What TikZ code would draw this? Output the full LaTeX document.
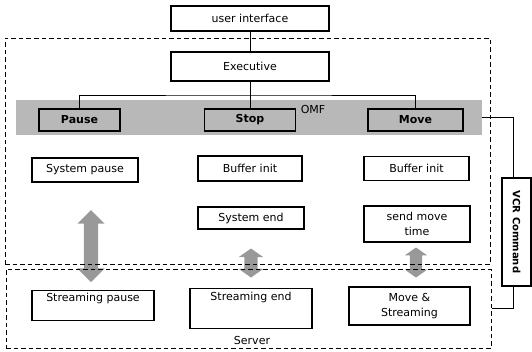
\documentclass[tikz,border=0pt]{standalone}
\usepackage{fontspec}
\setmainfont{DejaVu Sans}
\usetikzlibrary{shapes.arrows}
\begin{document}
\begin{tikzpicture}[x=1pt,y=-1pt,
  box/.style={draw,fill=white,line width=1.1pt,inner sep=0pt,align=center,font=\fontsize{11}{14.5}\selectfont},
  cmdbox/.style={draw,line width=1.5pt,inner sep=0pt,font=\fontsize{11}{13}\selectfont\bfseries},
  region/.style={draw,line width=1pt,dash pattern=on 4.5pt off 3pt,inner sep=0pt},
  band/.style={fill=black!28,inner sep=0pt},
  link/.style={line width=1pt},
  flow/.style={double arrow,fill=black!40,inner xsep=0pt,rotate=90}]
  \useasboundingbox (0,0) rectangle (532,351);
  \node[band,minimum width=466pt,minimum height=35pt] (omf) at (249,117.5) {};
  \node[font=\fontsize{11}{13}\selectfont] (omflabel) at (313,109) {OMF};
  \node[flow,minimum height=72pt,inner ysep=7pt,double arrow head extend=6.5pt] (pausearrow) at (91,246) {};
  \node[flow,minimum height=29pt,inner ysep=6.5pt,double arrow head extend=5.5pt,double arrow tip angle=110] (endarrow) at (251,263) {};
  \node[flow,minimum height=30pt,inner ysep=6pt,double arrow head extend=5pt,double arrow tip angle=110] (movearrow) at (416,262.5) {};
  \node[box,minimum width=158pt,minimum height=25pt] (ui) at (250,18.5) {user interface};
  \node[box,minimum width=158pt,minimum height=29pt] (exec) at (250,66.5) {Executive};
  \node[cmdbox,minimum width=81pt,minimum height=22pt] (pause) at (79.5,120) {Pause};
  \node[cmdbox,minimum width=91pt,minimum height=22pt] (stop) at (250,120) {Stop};
  \node[cmdbox,minimum width=95pt,minimum height=22pt] (move) at (415.5,120) {Move};
  \node[box,minimum width=106pt,minimum height=24pt] (syspause) at (85,170) {System pause};
  \node[box,minimum width=104pt,minimum height=25pt] (bufinit) at (250,168.5) {Buffer init};
  \node[box,minimum width=105pt,minimum height=24pt] (bufinitmove) at (416.5,168.5) {Buffer init};
  \node[box,minimum width=106pt,minimum height=22pt] (sysend) at (251,218) {System end};
  \node[box,minimum width=106pt,minimum height=36pt] (sendmove) at (417,224) {send move\\time};
  \node[box,anchor=north,minimum width=122pt,text height=11pt,text depth=19pt] (strpause) at (93,290) {Streaming pause};
  \node[box,anchor=north,minimum width=122pt,text height=12pt,text depth=28pt] (strend) at (251,288) {Streaming end};
  \node[box,minimum width=121pt,minimum height=38pt] (movestr) at (409.5,306) {Move \&\\Streaming};
  \node[font=\fontsize{11}{13}\selectfont] (serverlabel) at (252,340) {Server};
  \node[box,minimum width=29pt,minimum height=108pt,font=\fontsize{10}{12}\selectfont\bfseries] (vcr) at (516.5,232) {\rotatebox{-90}{VCR Command}};
  \node[region,minimum width=485pt,minimum height=226pt] (client) at (247.5,151) {};
  \node[region,minimum width=485pt,minimum height=79pt] (server) at (248.5,308.5) {};
  \coordinate (bus) at (250,95);
  \draw[link] (ui.south) -- (exec.north);
  \draw[link] (exec.south) -- (stop.north);
  \draw[link] (pause.north) |- (bus) -| (move.north);
  \draw[link] (omf.east) -| ([xshift=-3.5pt]vcr.north);
  \draw[link] ([xshift=-3.5pt]vcr.south) |- (server.east);
\end{tikzpicture}
\end{document}
